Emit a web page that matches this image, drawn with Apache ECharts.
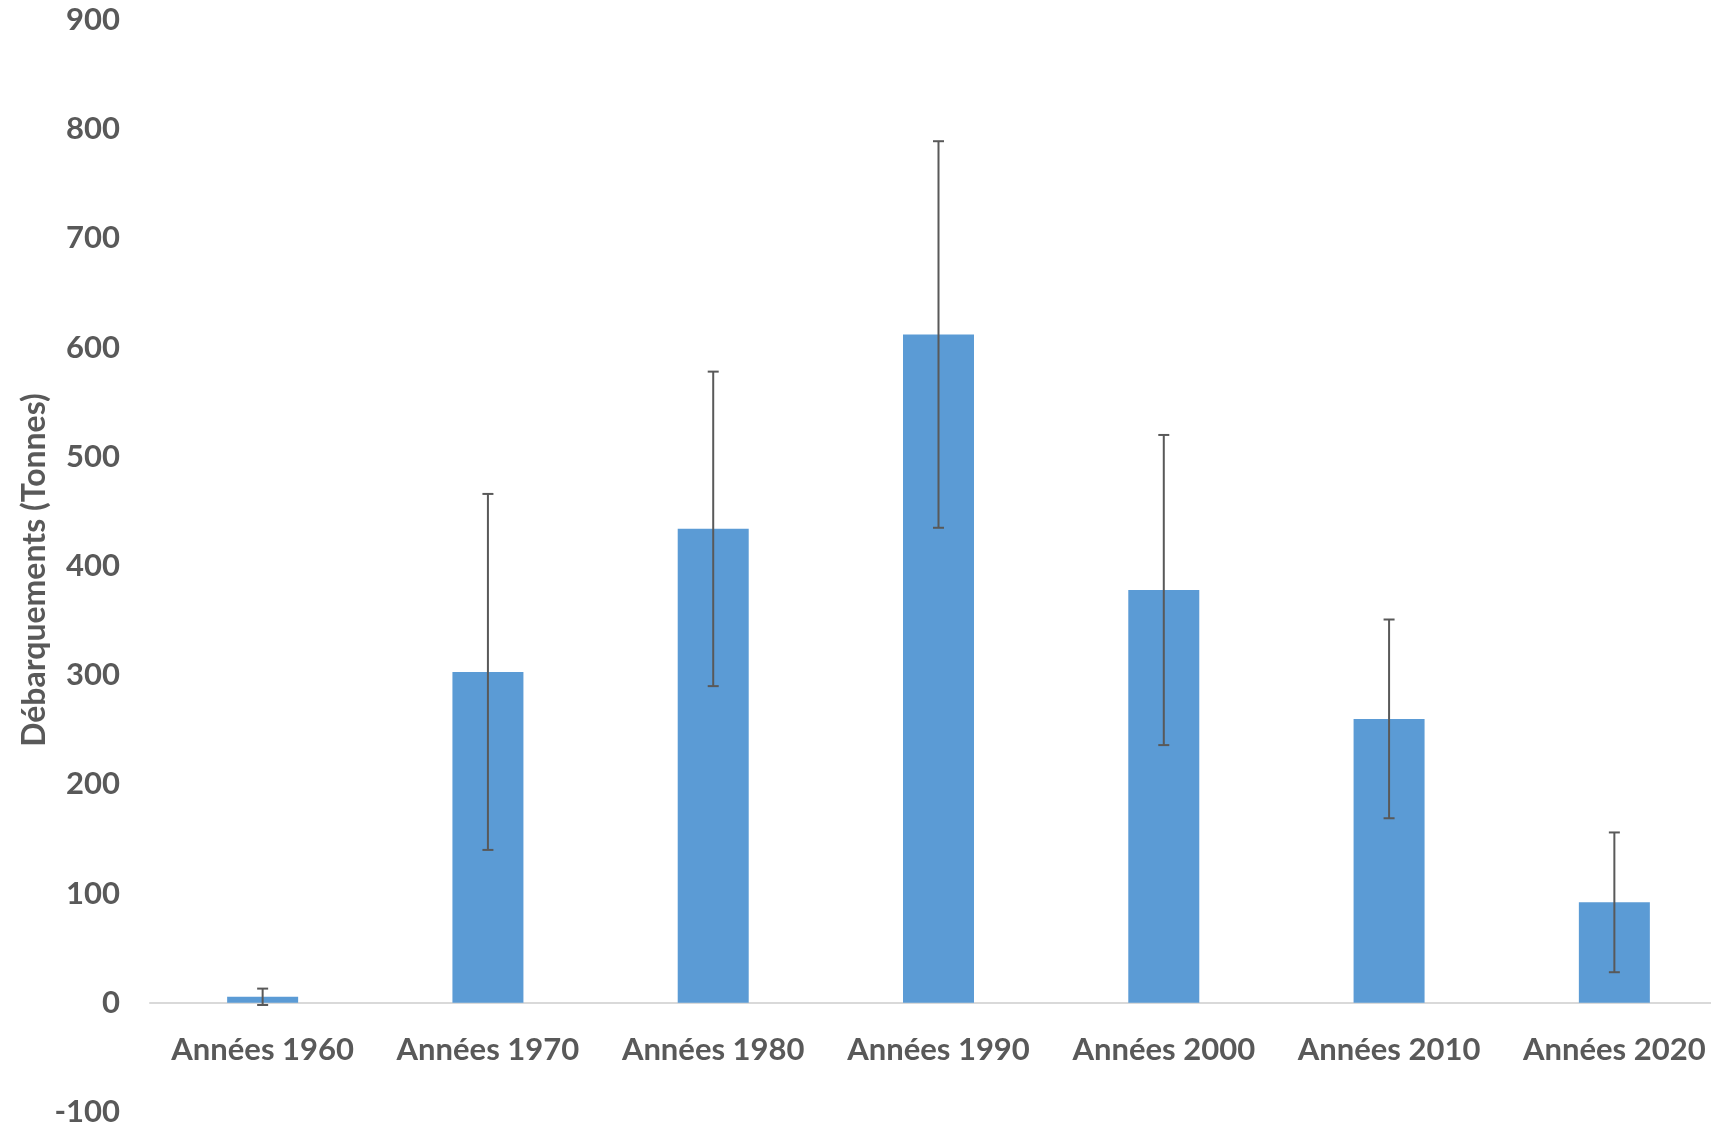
<!DOCTYPE html>
<html>
<head>
<meta charset="utf-8">
<script src="https://cdn.jsdelivr.net/npm/echarts@6/dist/echarts.min.js"></script>
<style>html,body{margin:0;padding:0;background:#fff;}#c{width:1711px;height:1131px;}</style>
</head>
<body>
<div id="c"></div>
<script>
const categories = ['Années 1960','Années 1970','Années 1980','Années 1990','Années 2000','Années 2010','Années 2020'];
const means = [5.5, 303, 434, 612, 378, 260, 92];
const errors = [7.5, 163, 144, 177, 142, 91, 64];
const yTitle = 'Débarquements (Tonnes)';

const chart = echarts.init(document.getElementById('c'));
const FONT = 'Lato';
const TXT = '#595959';
const GRID_TOP = 20, GRID_BOTTOM = 19, Y_MIN = -100, Y_MAX = 900;
const plotH = 1131 - GRID_TOP - GRID_BOTTOM;
const zeroOffset = plotH * (0 - Y_MIN) / (Y_MAX - Y_MIN);
chart.setOption({
  animation: false,
  backgroundColor: '#fff',
  grid: { left: 150, right: -16, top: GRID_TOP, bottom: GRID_BOTTOM, containLabel: false, outerBoundsMode: 'none' },
  xAxis: {
    type: 'category',
    data: categories,
    offset: -zeroOffset,
    axisLine: { onZero: false, lineStyle: { color: '#d9d9d9', width: 2 } },
    axisTick: { show: false },
    axisLabel: { interval: 0, color: TXT, fontFamily: FONT, fontWeight: 'bold', fontSize: 31, margin: 32, hideOverlap: false }
  },
  yAxis: {
    type: 'value',
    min: Y_MIN, max: Y_MAX, interval: 100,
    splitLine: { show: false },
    axisLine: { show: false },
    axisTick: { show: false },
    axisLabel: { color: TXT, fontFamily: FONT, fontWeight: 'bold', fontSize: 31, margin: 30 }
  },
  graphic: [{
    type: 'text',
    x: 35, y: 570,
    rotation: Math.PI / 2,
    style: { text: yTitle, fill: TXT, font: 'bold 32px Lato', align: 'center', verticalAlign: 'middle' }
  }],
  series: [
    {
      type: 'bar',
      data: means,
      barWidth: 71,
      itemStyle: { color: '#5b9bd5' },
      z: 2
    },
    {
      type: 'custom',
      data: means.map((m, i) => [i, m - errors[i], m + errors[i]]),
      z: 5,
      renderItem: function (params, api) {
        const i = api.value(0);
        const lo = api.coord([i, api.value(1)]);
        const hi = api.coord([i, api.value(2)]);
        const hw = 5.5;
        const st = { stroke: '#595959', lineWidth: 2 };
        return {
          type: 'group',
          children: [
            { type: 'line', shape: { x1: hi[0], y1: hi[1], x2: lo[0], y2: lo[1] }, style: st },
            { type: 'line', shape: { x1: hi[0] - hw, y1: hi[1], x2: hi[0] + hw, y2: hi[1] }, style: st },
            { type: 'line', shape: { x1: lo[0] - hw, y1: lo[1], x2: lo[0] + hw, y2: lo[1] }, style: st }
          ]
        };
      }
    }
  ]
});
</script>
</body>
</html>
